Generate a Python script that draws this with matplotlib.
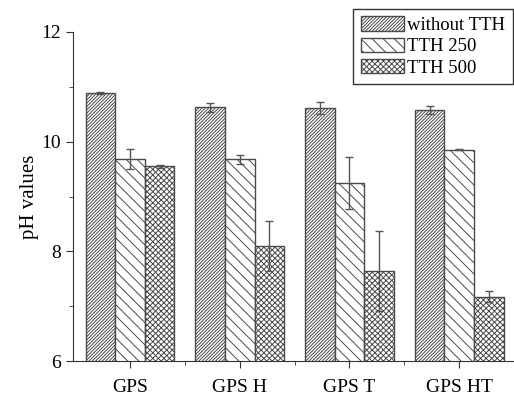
import matplotlib.pyplot as plt
import numpy as np

plt.rcParams['font.family'] = ['Liberation Serif', 'DejaVu Serif']
plt.rcParams['hatch.linewidth'] = 0.7

# данные
categories = ['GPS', 'GPS H', 'GPS T', 'GPS HT']
series = ['without TTH', 'TTH 250', 'TTH 500']
ph_without = [10.88, 10.62, 10.61, 10.57]
ph_250 = [9.68, 9.68, 9.25, 9.85]
ph_500 = [9.55, 8.10, 7.64, 7.18]
err_without = [0.02, 0.08, 0.11, 0.07]
err_250 = [0.18, 0.08, 0.47, 0.01]
err_500 = [0.03, 0.46, 0.73, 0.10]

values = [ph_without, ph_250, ph_500]
errors = [err_without, err_250, err_500]
hatches = ['/' * 10, '\\' * 3, 'x' * 6]

fig = plt.figure(figsize=(5.14, 3.95), dpi=100)
ax = fig.add_axes([0.142, 0.085, 0.858, 0.835])

x = np.arange(len(categories))
w = 0.27
for i in range(3):
    ax.bar(x + (i - 1) * w, values[i], w, bottom=0,
           yerr=errors[i], capsize=3,
           error_kw={'ecolor': '#555555', 'elinewidth': 1, 'capthick': 1},
           color='white', edgecolor='#4a4a4a', linewidth=1,
           hatch=hatches[i], label=series[i])

ax.set_ylim(6, 12)
ax.set_xlim(-0.52, 3.5)
ax.set_yticks([6, 8, 10, 12])
ax.set_yticks([7, 9, 11], minor=True)
ax.set_xticks(x)
ax.set_xticks(x[:-1] + 0.5, minor=True)
ax.set_xticklabels(categories)
ax.tick_params(axis='both', which='major', labelsize=14, length=5, color='#333333')
ax.tick_params(axis='both', which='minor', length=3, color='#333333')
ax.tick_params(axis='x', pad=8)

ax.spines['top'].set_visible(False)
ax.spines['right'].set_visible(False)
ax.spines['left'].set_color('#333333')
ax.spines['bottom'].set_color('#333333')

ax.set_ylabel('pH values', fontsize=15, labelpad=2)

leg = fig.legend(loc='upper right', bbox_to_anchor=(0.998, 0.978),
                 borderaxespad=0,
                 fontsize=13.5, handlelength=2.3, handleheight=0.8,
                 handletextpad=0.2, labelspacing=0.2,
                 borderpad=0.4, fancybox=False, framealpha=1,
                 edgecolor='#333333')
leg.get_frame().set_linewidth(1)

plt.savefig('out.png')
plt.close()
